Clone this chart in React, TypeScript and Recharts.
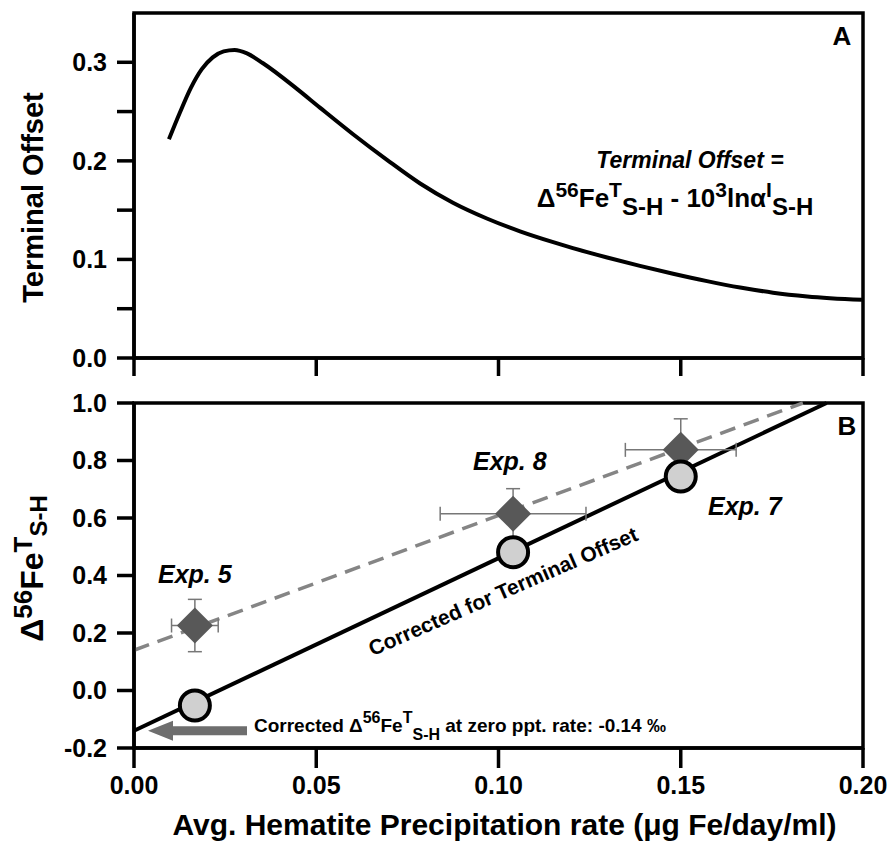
import React from 'react';
import { LineChart, ComposedChart, Line, Scatter, ErrorBar, XAxis, YAxis, ReferenceArea, ReferenceDot } from 'recharts';

const FONT = '"Liberation Sans", Arial, Helvetica, sans-serif';

// Panel A: terminal offset vs precipitation rate
const offsetRate = [0.0096, 0.0126, 0.0156, 0.0186, 0.0216, 0.0246, 0.0276, 0.031, 0.0354, 0.0447, 0.051, 0.0601, 0.0694,
  0.0785, 0.0875, 0.0968, 0.1059, 0.115, 0.1204, 0.1298, 0.1388, 0.1479, 0.1572, 0.1663, 0.1753, 0.1847, 0.1997];
const offsetValue = [0.222, 0.249, 0.274, 0.293, 0.305, 0.311, 0.3125, 0.309, 0.299, 0.273, 0.254, 0.227, 0.201,
  0.177, 0.1575, 0.1415, 0.1285, 0.1175, 0.1115, 0.102, 0.0935, 0.0855, 0.078, 0.0715, 0.0663, 0.0625, 0.059];

// Panel B: experiments
const expNames = ['Exp. 5', 'Exp. 8', 'Exp. 7'];
const expRate = [0.0167, 0.104, 0.150];
const expRateErr = [0.0064, 0.020, 0.0152];
const measuredDelta = [0.226, 0.615, 0.837];
const measuredErr = [0.091, 0.087, 0.108];
const correctedDelta = [-0.052, 0.481, 0.744];

// regression lines (end points)
const measuredFitX = [0, 0.1835];
const measuredFitY = [0.14, 1.0];
const correctedFitX = [0, 0.19];
const correctedFitY = [-0.14, 1.0];
const correctedIntercept = -0.14;

const rateTicks = [0, 0.05, 0.1, 0.15, 0.2];
const offsetTicks = [0, 0.05, 0.1, 0.15, 0.2, 0.25, 0.3];
const deltaTicks = [-0.2, 0, 0.2, 0.4, 0.6, 0.8, 1.0];

const curveData = offsetRate.map((x, i) => ({ x, y: offsetValue[i] }));
const measuredData = expRate.map((x, i) => ({ name: expNames[i], x, y: measuredDelta[i], ex: expRateErr[i], ey: measuredErr[i] }));
const correctedData = expRate.map((x, i) => ({ name: expNames[i], x, y: correctedDelta[i] }));
const measuredFit = measuredFitX.map((x, i) => ({ x, y: measuredFitY[i] }));
const correctedFit = correctedFitX.map((x, i) => ({ x, y: correctedFitY[i] }));

const tickStyle = { fill: '#000', fontSize: 25, fontWeight: 'bold', fontFamily: FONT };
const lineStyle = { stroke: '#000', strokeWidth: 3.5 };

const Diamond = (props: any) => {
  const { cx, cy } = props;
  if (cx == null || cy == null) return null;
  const r = 18;
  return <polygon points={`${cx},${cy - r} ${cx + r},${cy} ${cx},${cy + r} ${cx - r},${cy}`} fill="#585858" />;
};

const OpenCircle = (props: any) => {
  const { cx, cy } = props;
  if (cx == null || cy == null) return null;
  return <circle cx={cx} cy={cy} r={15} fill="#d0d0d0" stroke="#000" strokeWidth={4} />;
};

// arrow pointing at the intercept, with its note
const InterceptArrow = (props: any) => {
  const { cx, cy } = props;
  if (cx == null || cy == null) return null;
  const t = cx + 14;
  return (
    <g>
      <polygon
        points={`${t},${cy} ${t + 25},${cy - 10} ${t + 25},${cy - 4.5} ${t + 99},${cy - 4.5} ${t + 99},${cy + 4.5} ${t + 25},${cy + 4.5} ${t + 25},${cy + 10}`}
        fill="#6e6e6e"
      />
      <text x={cx + 120} y={cy + 1} fontFamily={FONT} fontWeight="bold" fontSize={19} fill="#000">
        <tspan>Corrected Δ</tspan>
        <tspan fontSize={16} dy={-9}>56</tspan>
        <tspan dy={9}>Fe</tspan>
        <tspan fontSize={16} dy={-9}>T</tspan>
        <tspan fontSize={16} dy={17}>S-H</tspan>
        <tspan dy={-8}> at zero ppt. rate: {correctedIntercept.toFixed(2)} ‰</tspan>
      </text>
    </g>
  );
};

const TopYLabel = (props: any) => {
  const vb = props.viewBox || {};
  const cy = vb.y + vb.height / 2 + 12;
  return (
    <text x={43} y={cy} transform={`rotate(-90, 43, ${cy})`} textAnchor="middle" fontFamily={FONT} fontWeight="bold" fontSize={29} fill="#000">
      Terminal Offset
    </text>
  );
};

const BottomYLabel = (props: any) => {
  const vb = props.viewBox || {};
  const cy = vb.y + vb.height / 2 - 7;
  return (
    <text x={43} y={cy} transform={`rotate(-90, 43, ${cy})`} textAnchor="middle" fontFamily={FONT} fontWeight="bold" fontSize={32} fill="#000">
      <tspan>Δ</tspan>
      <tspan fontSize={26} dy={-11}>56</tspan>
      <tspan dy={11}>Fe</tspan>
      <tspan fontSize={26} dy={-11}>T</tspan>
      <tspan fontSize={24} dy={15}>S-H</tspan>
    </text>
  );
};

const XLabel = (props: any) => {
  const vb = props.viewBox || {};
  return (
    <text x={vb.x + vb.width / 2 + 6} y={vb.y + 87} textAnchor="middle" fontFamily={FONT} fontWeight="bold" fontSize={30} fill="#000">
      Avg. Hematite Precipitation rate (μg Fe/day/ml)
    </text>
  );
};

export default function App() {
  return (
    <div style={{ position: 'absolute', left: 0, top: 0, width: 896, height: 842, background: '#fff' }}>
      <div style={{ position: 'absolute', left: 0, top: 0 }}>
        <LineChart width={896} height={385} data={curveData} margin={{ top: 13, right: 33, bottom: 0, left: 0 }}>
          <XAxis
            dataKey="x"
            type="number"
            domain={[0, 0.2]}
            ticks={rateTicks}
            tickFormatter={() => ''}
            height={27}
            tickSize={18}
            axisLine={lineStyle}
            tickLine={lineStyle}
          />
          <YAxis
            type="number"
            domain={[0, 0.35]}
            ticks={offsetTicks}
            tickFormatter={(v: number) => (Math.round(v * 100) % 10 === 0 ? v.toFixed(1) : '')}
            width={134}
            tickSize={17}
            tickMargin={10}
            tick={tickStyle}
            axisLine={lineStyle}
            tickLine={lineStyle}
            label={{ content: TopYLabel }}
          />
          <ReferenceArea x1={0} x2={0.2} y1={0} y2={0.35} fill="none" stroke="#000" strokeWidth={3.5} />
          <Line type="monotone" dataKey="y" stroke="#000" strokeWidth={4} dot={false} isAnimationActive={false} />
        </LineChart>
      </div>

      <div style={{ position: 'absolute', left: 0, top: 380 }}>
        <ComposedChart width={896} height={462} margin={{ top: 23, right: 33, bottom: 0, left: 0 }}>
          <XAxis
            dataKey="x"
            type="number"
            domain={[0, 0.2]}
            ticks={rateTicks}
            tickFormatter={(v: number) => v.toFixed(2)}
            height={94}
            tickSize={20}
            tickMargin={8}
            tick={tickStyle}
            axisLine={lineStyle}
            tickLine={lineStyle}
            label={{ content: XLabel }}
          />
          <YAxis
            dataKey="y"
            type="number"
            domain={[-0.2, 1.0]}
            ticks={deltaTicks}
            tickFormatter={(v: number) => v.toFixed(1)}
            width={134}
            tickSize={17}
            tickMargin={10}
            tick={tickStyle}
            axisLine={lineStyle}
            tickLine={lineStyle}
            label={{ content: BottomYLabel }}
          />
          <ReferenceArea x1={0} x2={0.2} y1={-0.2} y2={1.0} fill="none" stroke="#000" strokeWidth={3.5} />
          <Line data={measuredFit} type="linear" dataKey="y" stroke="#858585" strokeWidth={3.5} strokeDasharray="16 9" dot={false} isAnimationActive={false} />
          <Line data={correctedFit} type="linear" dataKey="y" stroke="#000" strokeWidth={4} dot={false} isAnimationActive={false} />
          <Scatter data={measuredData} dataKey="y" shape={Diamond} isAnimationActive={false}>
            <ErrorBar dataKey="ex" direction="x" width={7} stroke="#777" strokeWidth={1.5} />
            <ErrorBar dataKey="ey" direction="y" width={7} stroke="#777" strokeWidth={1.5} />
          </Scatter>
          <Scatter data={correctedData} dataKey="y" shape={OpenCircle} isAnimationActive={false} />
          <ReferenceDot x={0} y={correctedIntercept} shape={InterceptArrow} />
        </ComposedChart>
      </div>

      <svg width={896} height={842} style={{ position: 'absolute', left: 0, top: 0, pointerEvents: 'none' }} fontFamily={FONT} fontWeight="bold" fill="#000">
        <text x={842} y={45} fontSize={26} textAnchor="middle">A</text>
        <text x={847} y={435} fontSize={26} textAnchor="middle">B</text>
        <text x={690} y={168} fontSize={23} fontStyle="italic" textAnchor="middle">Terminal Offset =</text>
        <text x={675} y={207} fontSize={26} textAnchor="middle">
          <tspan>Δ</tspan>
          <tspan fontSize={21} dy={-10}>56</tspan>
          <tspan dy={10}>Fe</tspan>
          <tspan fontSize={21} dy={-10}>T</tspan>
          <tspan fontSize={24} dy={18}>S-H</tspan>
          <tspan dy={-8}> - 10</tspan>
          <tspan fontSize={21} dy={-10}>3</tspan>
          <tspan dy={10}>lnα</tspan>
          <tspan fontSize={21} dy={-10}>I</tspan>
          <tspan fontSize={24} dy={18}>S-H</tspan>
        </text>
        <text x={158} y={583} fontSize={25} fontStyle="italic">{expNames[0]}</text>
        <text x={473} y={470} fontSize={25} fontStyle="italic">{expNames[1]}</text>
        <text x={708} y={515} fontSize={25} fontStyle="italic">{expNames[2]}</text>
        <text x={506} y={598} fontSize={21} textAnchor="middle" transform="rotate(-23.6, 506, 598)">Corrected for Terminal Offset</text>
      </svg>
    </div>
  );
}
